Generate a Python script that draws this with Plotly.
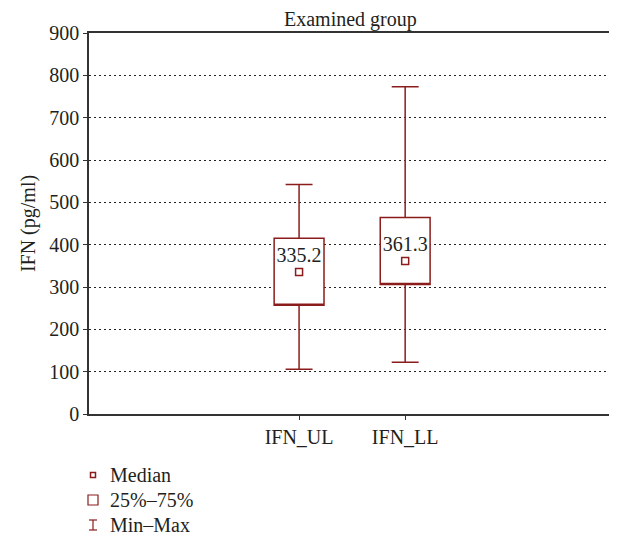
import plotly.graph_objects as go

categories = ["IFN_UL", "IFN_LL"]
x_pos = [0, 1]
mins = [106, 122]
q1s = [257, 306]
q3s = [415, 464]
maxs = [542, 773]
medians = [335.2, 361.3]
y_ticks = [0, 100, 200, 300, 400, 500, 600, 700, 800, 900]

RED = "#8b1c1c"
FONT = "Liberation Serif, Times New Roman, DejaVu Serif, serif"
TXT = "#231f20"
FS = 20

# page body margin (8px) compensation
OFF = 8
W, H = 617 - OFF, 540 - OFF
ML, MR, MT = 89 - OFF, 6, 33 - OFF
PLOT_H = 381
MB = H - MT - PLOT_H

fig = go.Figure()
for i in range(len(categories)):
    fig.add_trace(go.Box(
        x=[x_pos[i]], q1=[q1s[i]], median=[q1s[i]], q3=[q3s[i]],
        lowerfence=[mins[i]], upperfence=[maxs[i]],
        width=0.47, whiskerwidth=0.54,
        line=dict(color=RED, width=1.5), fillcolor="white",
        boxpoints=False, showlegend=False, hoverinfo="skip",
    ))

fig.add_trace(go.Scatter(
    x=x_pos, y=medians, mode="markers+text",
    text=[f"{m:.1f}" for m in medians], textposition="top center",
    textfont=dict(family=FONT, size=FS, color=TXT),
    marker=dict(symbol="square-open", size=7, color=RED, line=dict(width=1.5)),
    showlegend=False, cliponaxis=False,
))

fig.update_layout(
    width=W, height=H,
    margin=dict(l=ML, r=MR, t=MT, b=MB),
    paper_bgcolor="white", plot_bgcolor="white",
    font=dict(family=FONT, size=FS, color=TXT),
    showlegend=False,
)
fig.update_yaxes(
    range=[0, 900], tickvals=y_ticks, ticks="outside", ticklen=4, tickcolor="#333",
    tickfont=dict(family=FONT, size=FS, color=TXT),
    showline=True, mirror=True, linecolor="#333", linewidth=1.5,
    showgrid=True, gridcolor="#222", griddash="2px,3px", gridwidth=1.2, zeroline=False,
    automargin=False,
    title=dict(text="IFN (pg/ml)", font=dict(family=FONT, size=FS, color=TXT), standoff=8),
)
fig.update_xaxes(
    range=[-1.98, 2.94], tickvals=x_pos, ticktext=categories, ticks="outside",
    tickfont=dict(family=FONT, size=FS, color=TXT),
    ticklen=4, tickcolor="#333", showline=True, mirror=True, linecolor="#333",
    linewidth=1.5, showgrid=False, zeroline=False, automargin=False,
)

fig.add_annotation(text="Examined group", xref="paper", yref="paper",
                   x=0.5, y=1.0, yanchor="bottom", showarrow=False,
                   font=dict(family=FONT, size=FS, color=TXT))

# legend (manual)
legend_items = ["Median", "25%\u201375%", "Min\u2013Max"]
leg_y_px = [475, 500, 525]
def py(p):
    return (414 - p) / PLOT_H
def px(p):
    return (p - 89) / 522
for name, yy in zip(legend_items, leg_y_px):
    fig.add_annotation(text=name, xref="paper", yref="paper", x=px(108), y=py(yy),
                       xanchor="left", yanchor="middle", showarrow=False,
                       font=dict(family=FONT, size=FS, color=TXT))
# icons
fig.add_shape(type="rect", xref="paper", yref="paper", x0=px(90.5), x1=px(95.5),
              y0=py(477.5), y1=py(472.5), line=dict(color=RED, width=1.5))
fig.add_shape(type="rect", xref="paper", yref="paper", x0=px(88), x1=px(98),
              y0=py(505), y1=py(495), line=dict(color=RED, width=1.2))
fig.add_shape(type="line", xref="paper", yref="paper", x0=px(93), x1=px(93),
              y0=py(520), y1=py(530), line=dict(color=RED, width=1.2))
fig.add_shape(type="line", xref="paper", yref="paper", x0=px(89), x1=px(97),
              y0=py(520), y1=py(520), line=dict(color=RED, width=1.2))
fig.add_shape(type="line", xref="paper", yref="paper", x0=px(89), x1=px(97),
              y0=py(530), y1=py(530), line=dict(color=RED, width=1.2))

fig.write_html("out.html")
